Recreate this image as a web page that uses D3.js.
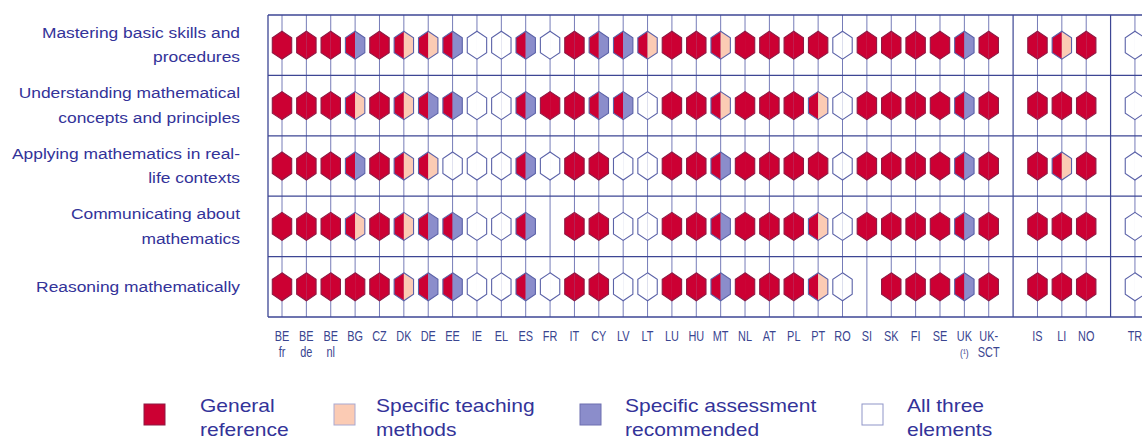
<!DOCTYPE html>
<html>
<head>
<meta charset="utf-8">
<script src="https://cdn.jsdelivr.net/npm/d3@7"></script>
<style>
  body { margin: 0; background: #fff; }
  svg { display: block; }
</style>
</head>
<body>
<div id="chart"></div>
<script>
// Rows of the matrix
const rowNames = [
    "Mastering basic skills and|procedures",
    "Understanding mathematical|concepts and principles",
    "Applying mathematics in real-|life contexts",
    "Communicating about|mathematics",
    "Reasoning mathematically"
];

// Country groups (separated by a vertical line)
const groupEU = ["BE fr", "BE de", "BE nl", "BG", "CZ", "DK", "DE", "EE", "IE", "EL", "ES", "FR",
    "IT", "CY", "LV", "LT", "LU", "HU", "MT", "NL", "AT", "PL", "PT", "RO", "SI", "SK", "FI", "SE",
    "UK (¹)", "UK- SCT"];
const groupEFTA = ["IS", "LI", "NO"];
const groupCand = ["TR"];

// G = general reference, T = + specific teaching methods,
// A = + specific assessment recommended, W = all three elements, - = no data
const rowValues = [
    "GGGAGTTAWWAWGAATGGTGGGGWGGGGAG" + "GTG" + "W",
    "GGGTGTAAWWAGGAAWGGTGGGTWGGGGAG" + "GGG" + "W",
    "GGGAGTTWWWAWGGWWGGAGGGGWGGGGAG" + "GTG" + "W",
    "GGGTGTAAWWA-GGWWGGAGGGTWGGGGAG" + "GGG" + "W",
    "GGGGGTAAWWAWGGWWGGAGGGTW-GGGAG" + "GGG" + "W"
];

const legendItems = ["General|reference", "Specific teaching|methods", "Specific assessment|recommended", "All three|elements"];

const RED = "#cc0033", PEACH = "#fbcbb4", PURPLE = "#8b8dcb", WHITE = "#ffffff";
const LINE = "#3d4694", TEXT = "#333399";
const FONT = "'Liberation Sans', Arial, sans-serif";

const width = 1142, height = 439;

const svg = d3.select("#chart")
    .append("svg")
    .attr("width", width)
    .attr("height", height);

const countries = [...groupEU, ...groupEFTA, ...groupCand];
const domain = [...groupEU, "sep1", ...groupEFTA, "sep2", ...groupCand];

const x = d3.scalePoint()
    .domain(domain)
    .range([282, 282 + 35 * 24.37]);

const y = d3.scaleBand()
    .domain(rowNames)
    .range([15, 317])
    .padding(0);

const frameLeft = 268, frameRight = 1150;

// Column guide lines
svg.append("g")
    .selectAll("line")
    .data(countries)
    .enter()
    .append("line")
    .attr("x1", d => x(d))
    .attr("x2", d => x(d))
    .attr("y1", 15)
    .attr("y2", 317)
    .attr("stroke", "#767cb8")
    .attr("stroke-width", 1);

// Group separators
svg.append("g")
    .selectAll("line")
    .data(["sep1", "sep2"])
    .enter()
    .append("line")
    .attr("x1", d => x(d))
    .attr("x2", d => x(d))
    .attr("y1", 15)
    .attr("y2", 317)
    .attr("stroke", LINE)
    .attr("stroke-width", 1.2);

// Row lines + frame
const hLines = rowNames.map(r => y(r)).concat([y.range()[1]]);
svg.append("g")
    .selectAll("line")
    .data(hLines)
    .enter()
    .append("line")
    .attr("x1", frameLeft)
    .attr("x2", frameRight)
    .attr("y1", d => d)
    .attr("y2", d => d)
    .attr("stroke", LINE)
    .attr("stroke-width", 1.3);

svg.append("line")
    .attr("x1", frameLeft).attr("x2", frameLeft)
    .attr("y1", 15).attr("y2", 317)
    .attr("stroke", LINE).attr("stroke-width", 1.3);

// Hexagons
const hw = 9.7, hh = 14, hs = 7.5;
const leftHalf = `M0,${-hh}L${-hw},${-hs}L${-hw},${hs}L0,${hh}Z`;
const rightHalf = `M0,${-hh}L${hw},${-hs}L${hw},${hs}L0,${hh}Z`;
const fullHex = `M0,${-hh}L${hw},${-hs}L${hw},${hs}L0,${hh}L${-hw},${hs}L${-hw},${-hs}Z`;

const cells = [];
rowValues.forEach((vals, r) => {
    countries.forEach((c, i) => {
        const v = vals[i];
        if (v !== "-") cells.push({ row: rowNames[r], country: c, v: v });
    });
});

const hex = svg.append("g")
    .selectAll("g")
    .data(cells)
    .enter()
    .append("g")
    .attr("transform", d => `translate(${x(d.country)},${y(d.row) + y.bandwidth() / 2})`);

hex.append("path")
    .attr("d", leftHalf)
    .attr("fill", d => d.v === "W" ? WHITE : RED);

hex.append("path")
    .attr("d", rightHalf)
    .attr("fill", d => d.v === "W" ? WHITE : d.v === "T" ? PEACH : d.v === "A" ? PURPLE : RED);

hex.append("path")
    .attr("d", fullHex)
    .attr("fill", "none")
    .attr("stroke", d => d.v === "G" ? "#8e1a45" : "#5b62a8")
    .attr("stroke-width", 1.1);

// Row labels (text in the source is wide, so stretch horizontally)
const rowLabels = svg.append("g")
    .selectAll("text")
    .data(rowNames)
    .enter()
    .append("text")
    .attr("text-anchor", "end")
    .attr("transform", "translate(240,0) scale(1.2,1)")
    .attr("font-family", FONT)
    .attr("font-size", 14.5)
    .attr("fill", TEXT);

rowLabels.each(function(d) {
    const lines = d.split("|");
    const cy = y(d) + y.bandwidth() / 2;
    const start = cy - (lines.length - 1) * 12.3 + 5;
    lines.forEach((l, i) => {
        d3.select(this).append("tspan")
            .attr("x", 0)
            .attr("y", start + i * 24.6)
            .text(l);
    });
});

// Country labels (condensed)
const colLabels = svg.append("g")
    .selectAll("text")
    .data(countries)
    .enter()
    .append("text")
    .attr("text-anchor", "middle")
    .attr("transform", d => `translate(${x(d)},0) scale(0.78,1)`)
    .attr("font-family", FONT)
    .attr("font-size", 14)
    .attr("fill", "#3a4590");

colLabels.each(function(d) {
    const lines = d.split(" ");
    lines.forEach((l, i) => {
        d3.select(this).append("tspan")
            .attr("x", 0)
            .attr("y", 341 + i * 16.5)
            .attr("font-size", l === "(¹)" ? 11 : 14)
            .text(l);
    });
});

// Legend
const legendX = [144, 334, 580, 862];
const legendTextX = [200, 376, 625, 907];
const legendFill = [RED, PEACH, PURPLE, WHITE];
const legendStroke = ["#8e1a45", "#a9a9d2", "#6d6fb0", "#8f95c8"];

legendItems.forEach((item, i) => {
    svg.append("rect")
        .attr("x", legendX[i])
        .attr("y", 404)
        .attr("width", 21)
        .attr("height", 21)
        .attr("fill", legendFill[i])
        .attr("stroke", legendStroke[i])
        .attr("stroke-width", 1);

    const t = svg.append("text")
        .attr("transform", `translate(${legendTextX[i]},0) scale(1.2,1)`)
        .attr("font-family", FONT)
        .attr("font-size", 17.5)
        .attr("fill", TEXT);
    item.split("|").forEach((l, j) => {
        t.append("tspan")
            .attr("x", 0)
            .attr("y", 412 + j * 24)
            .text(l);
    });
});
</script>
</body>
</html>
